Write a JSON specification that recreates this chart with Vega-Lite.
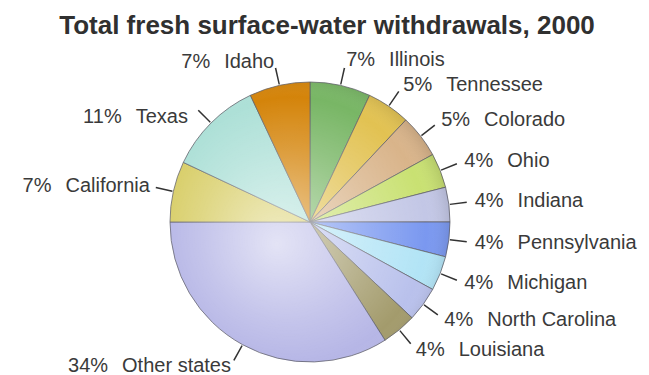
{
  "$schema": "https://vega.github.io/schema/vega-lite/v6.json",
  "width": 400,
  "height": 300,
  "autosize": "none",
  "padding": {"left": 110, "top": 72, "right": 139, "bottom": 3},
  "background": "white",
  "config": {"view": {"stroke": null}},
  "title": {
    "text": "Total fresh surface-water withdrawals, 2000",
    "font": "Liberation Sans",
    "fontSize": 26,
    "fontWeight": "bold",
    "color": "#303030",
    "anchor": "middle",
    "frame": "group",
    "baseline": "alphabetic",
    "dx": 17,
    "offset": -10
  },
  "data": {
    "values": [
      {"i": 1, "state": "Illinois", "pct": 7},
      {"i": 2, "state": "Tennessee", "pct": 5},
      {"i": 3, "state": "Colorado", "pct": 5},
      {"i": 4, "state": "Ohio", "pct": 4},
      {"i": 5, "state": "Indiana", "pct": 4},
      {"i": 6, "state": "Pennsylvania", "pct": 4},
      {"i": 7, "state": "Michigan", "pct": 4},
      {"i": 8, "state": "North Carolina", "pct": 4},
      {"i": 9, "state": "Louisiana", "pct": 4},
      {"i": 10, "state": "Other states", "pct": 34},
      {"i": 11, "state": "California", "pct": 7},
      {"i": 12, "state": "Texas", "pct": 11},
      {"i": 13, "state": "Idaho", "pct": 7}
    ]
  },
  "resolve": {"scale": {"theta": "independent"}},
  "layer": [
    {
      "mark": {"type": "arc", "radius": 140, "stroke": "#5e5e68", "strokeWidth": 0.9, "strokeOpacity": 0.85},
      "encoding": {
        "theta": {"field": "pct", "type": "quantitative", "stack": true},
        "order": {"field": "i", "type": "quantitative"},
        "color": {
          "field": "state",
          "type": "nominal",
          "legend": null,
          "scale": {
            "domain": ["Illinois", "Tennessee", "Colorado", "Ohio", "Indiana", "Pennsylvania", "Michigan", "North Carolina", "Louisiana", "Other states", "California", "Texas", "Idaho"],
            "range": ["#78b665", "#e2c252", "#d9b48a", "#c9e172", "#c3c7e6", "#7a98f0", "#b2e4f6", "#b9c1ec", "#a39b6c", "#b6b6e6", "#d8ce68", "#ade0d7", "#d4840a"]
          }
        }
      }
    },
    {
      "data": {"values": [{"w": 1}]},
      "mark": {
        "type": "arc",
        "radius": 140,
        "fill": {
          "gradient": "radial",
          "x1": 0.38, "y1": 0.58, "r1": 0,
          "x2": 0.45, "y2": 0.52, "r2": 0.56,
          "stops": [
            {"offset": 0, "color": "rgba(255,255,255,0.62)"},
            {"offset": 0.55, "color": "rgba(255,255,255,0.2)"},
            {"offset": 0.85, "color": "rgba(255,255,255,0)"},
            {"offset": 1, "color": "rgba(0,0,0,0.12)"}
          ]
        }
      },
      "encoding": {"theta": {"field": "w", "type": "quantitative"}}
    },
    {
      "transform": [
        {"window": [{"op": "sum", "field": "pct", "as": "cum"}], "sort": [{"field": "i"}], "frame": [null, 0]},
        {"calculate": "datum.cum - datum.pct / 2 - 0.08", "as": "a0"},
        {"calculate": "datum.cum - datum.pct / 2 + 0.08", "as": "a1"}
      ],
      "mark": {"type": "arc", "radius": 141, "radius2": 158, "fill": "#333333"},
      "encoding": {
        "theta": {"field": "a0", "type": "quantitative", "stack": null, "scale": {"domain": [0, 100]}},
        "theta2": {"field": "a1"}
      }
    },
    {
      "transform": [
        {"window": [{"op": "sum", "field": "pct", "as": "cum"}], "sort": [{"field": "i"}], "frame": [null, 0]},
        {"calculate": "datum.cum - datum.pct / 2", "as": "mid"},
        {"calculate": "datum.pct + '%\u2002\u2009' + datum.state", "as": "label"},
        {"filter": "datum.i <= 9"}
      ],
      "mark": {"type": "text", "radius": 166, "align": "left", "baseline": "middle", "font": "Liberation Sans", "fontSize": 20, "color": "#3a3a3a"},
      "encoding": {
        "theta": {"field": "mid", "type": "quantitative", "stack": null, "scale": {"domain": [0, 100]}},
        "text": {"field": "label"}
      }
    },
    {
      "transform": [
        {"window": [{"op": "sum", "field": "pct", "as": "cum"}], "sort": [{"field": "i"}], "frame": [null, 0]},
        {"calculate": "datum.cum - datum.pct / 2", "as": "mid"},
        {"calculate": "datum.pct + '%\u2002\u2009' + datum.state", "as": "label"},
        {"filter": "datum.i >= 10 && datum.state != 'Texas'"}
      ],
      "mark": {"type": "text", "radius": 164, "align": "right", "baseline": "middle", "font": "Liberation Sans", "fontSize": 20, "color": "#3a3a3a"},
      "encoding": {
        "theta": {"field": "mid", "type": "quantitative", "stack": null, "scale": {"domain": [0, 100]}},
        "text": {"field": "label"}
      }
    },
    {
      "transform": [
        {"window": [{"op": "sum", "field": "pct", "as": "cum"}], "sort": [{"field": "i"}], "frame": [null, 0]},
        {"calculate": "datum.cum - datum.pct / 2", "as": "mid"},
        {"calculate": "datum.pct + '%\u2002\u2009' + datum.state", "as": "label"},
        {"filter": "datum.state == 'Texas'"}
      ],
      "mark": {"type": "text", "radius": 167, "align": "right", "baseline": "middle", "dx": -4, "dy": 13, "font": "Liberation Sans", "fontSize": 20, "color": "#3a3a3a"},
      "encoding": {
        "theta": {"field": "mid", "type": "quantitative", "stack": null, "scale": {"domain": [0, 100]}},
        "text": {"field": "label"}
      }
    }
  ]
}
